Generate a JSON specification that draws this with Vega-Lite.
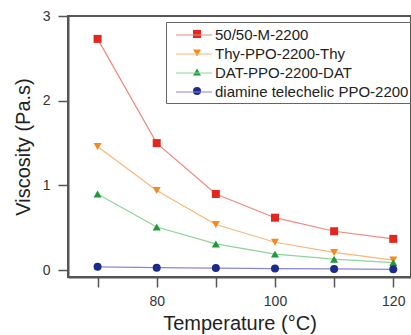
{
  "$schema": "https://vega.github.io/schema/vega-lite/v6.json",
  "width": 343,
  "height": 261,
  "padding": {"left": 68, "top": 16, "right": 0, "bottom": 58},
  "autosize": {"type": "none"},
  "background": "white",
  "config": {
    "font": "Liberation Sans",
    "view": {"stroke": "#555", "strokeWidth": 2},
    "axis": {
      "grid": false,
      "domainColor": "#555",
      "domainWidth": 2,
      "tickColor": "#555",
      "tickWidth": 1.5,
      "tickSize": 10,
      "labelColor": "#333",
      "labelFontSize": 14,
      "labelFont": "Liberation Sans",
      "titleFont": "Liberation Sans",
      "titleFontSize": 20,
      "titleFontWeight": "normal",
      "titleColor": "#222"
    }
  },
  "data": {
    "values": [
      {"T": 70, "v": 2.73, "s": "50/50-M-2200"},
      {"T": 80, "v": 1.50, "s": "50/50-M-2200"},
      {"T": 90, "v": 0.90, "s": "50/50-M-2200"},
      {"T": 100, "v": 0.62, "s": "50/50-M-2200"},
      {"T": 110, "v": 0.46, "s": "50/50-M-2200"},
      {"T": 120, "v": 0.37, "s": "50/50-M-2200"},
      {"T": 70, "v": 1.46, "s": "Thy-PPO-2200-Thy"},
      {"T": 80, "v": 0.94, "s": "Thy-PPO-2200-Thy"},
      {"T": 90, "v": 0.54, "s": "Thy-PPO-2200-Thy"},
      {"T": 100, "v": 0.33, "s": "Thy-PPO-2200-Thy"},
      {"T": 110, "v": 0.21, "s": "Thy-PPO-2200-Thy"},
      {"T": 120, "v": 0.12, "s": "Thy-PPO-2200-Thy"},
      {"T": 70, "v": 0.90, "s": "DAT-PPO-2200-DAT"},
      {"T": 80, "v": 0.51, "s": "DAT-PPO-2200-DAT"},
      {"T": 90, "v": 0.31, "s": "DAT-PPO-2200-DAT"},
      {"T": 100, "v": 0.19, "s": "DAT-PPO-2200-DAT"},
      {"T": 110, "v": 0.13, "s": "DAT-PPO-2200-DAT"},
      {"T": 120, "v": 0.09, "s": "DAT-PPO-2200-DAT"},
      {"T": 70, "v": 0.04, "s": "diamine telechelic PPO-2200"},
      {"T": 80, "v": 0.03, "s": "diamine telechelic PPO-2200"},
      {"T": 90, "v": 0.025, "s": "diamine telechelic PPO-2200"},
      {"T": 100, "v": 0.02, "s": "diamine telechelic PPO-2200"},
      {"T": 110, "v": 0.015, "s": "diamine telechelic PPO-2200"},
      {"T": 120, "v": 0.01, "s": "diamine telechelic PPO-2200"}
    ]
  },
  "encoding": {
    "x": {
      "field": "T", "type": "quantitative",
      "scale": {"domain": [65, 123], "nice": false, "zero": false},
      "axis": {
        "title": "Temperature (°C)",
        "values": [70, 80, 90, 100, 110, 120],
        "labelExpr": "datum.value % 20 === 0 ? datum.label : ''",
        "labelPadding": 7,
        "titlePadding": 5
      }
    },
    "y": {
      "field": "v", "type": "quantitative",
      "scale": {"domain": [-0.08, 3], "nice": false, "zero": false},
      "axis": {
        "title": "Viscosity (Pa.s)",
        "values": [0, 0.5, 1, 1.5, 2, 2.5, 3],
        "format": "d",
        "labelExpr": "datum.value % 1 === 0 ? datum.label : ''",
        "labelPadding": 8,
        "titlePadding": 9
      }
    }
  },
  "layer": [
    {
      "mark": {"type": "line", "strokeWidth": 1.2},
      "encoding": {
        "color": {
          "field": "s", "type": "nominal",
          "scale": {
            "domain": ["50/50-M-2200", "Thy-PPO-2200-Thy", "DAT-PPO-2200-DAT", "diamine telechelic PPO-2200"],
            "range": ["#f08a78", "#f9b77a", "#8fd39a", "#8a86d6"]
          },
          "legend": {
            "orient": "none",
            "legendX": 98,
            "legendY": 6,
            "title": null,
            "symbolType": "M-0.33,0H3.67",
            "symbolSize": 324,
            "symbolStrokeWidth": 1.2,
            "labelFontSize": 15,
            "labelColor": "#222",
            "labelOffset": 26,
            "labelLimit": 400,
            "rowPadding": 1,
            "padding": 3,
            "strokeColor": "#666"
          }
        }
      }
    },
    {
      "mark": {"type": "point", "filled": true, "opacity": 1, "size": 64},
      "encoding": {
        "fill": {
          "field": "s", "type": "nominal",
          "scale": {
            "domain": ["50/50-M-2200", "Thy-PPO-2200-Thy", "DAT-PPO-2200-DAT", "diamine telechelic PPO-2200"],
            "range": ["#e52620", "#f58a1f", "#1e9a3c", "#1c2a8c"]
          },
          "legend": {
            "orient": "none",
            "legendX": 117,
            "legendY": 6,
            "title": null,
            "symbolSize": 64,
            "symbolOpacity": 1,
            "labelFontSize": 18,
            "labelExpr": "''",
            "labelOffset": 3,
            "rowPadding": 1,
            "padding": 3
          }
        },
        "shape": {
          "field": "s", "type": "nominal",
          "scale": {
            "domain": ["50/50-M-2200", "Thy-PPO-2200-Thy", "DAT-PPO-2200-DAT", "diamine telechelic PPO-2200"],
            "range": ["square", "triangle-down", "triangle-up", "circle"]
          },
          "legend": {
            "orient": "none",
            "legendX": 117,
            "legendY": 6,
            "title": null
          }
        }
      }
    }
  ],
  "resolve": {"scale": {"color": "independent"}, "legend": {"color": "independent"}}
}
